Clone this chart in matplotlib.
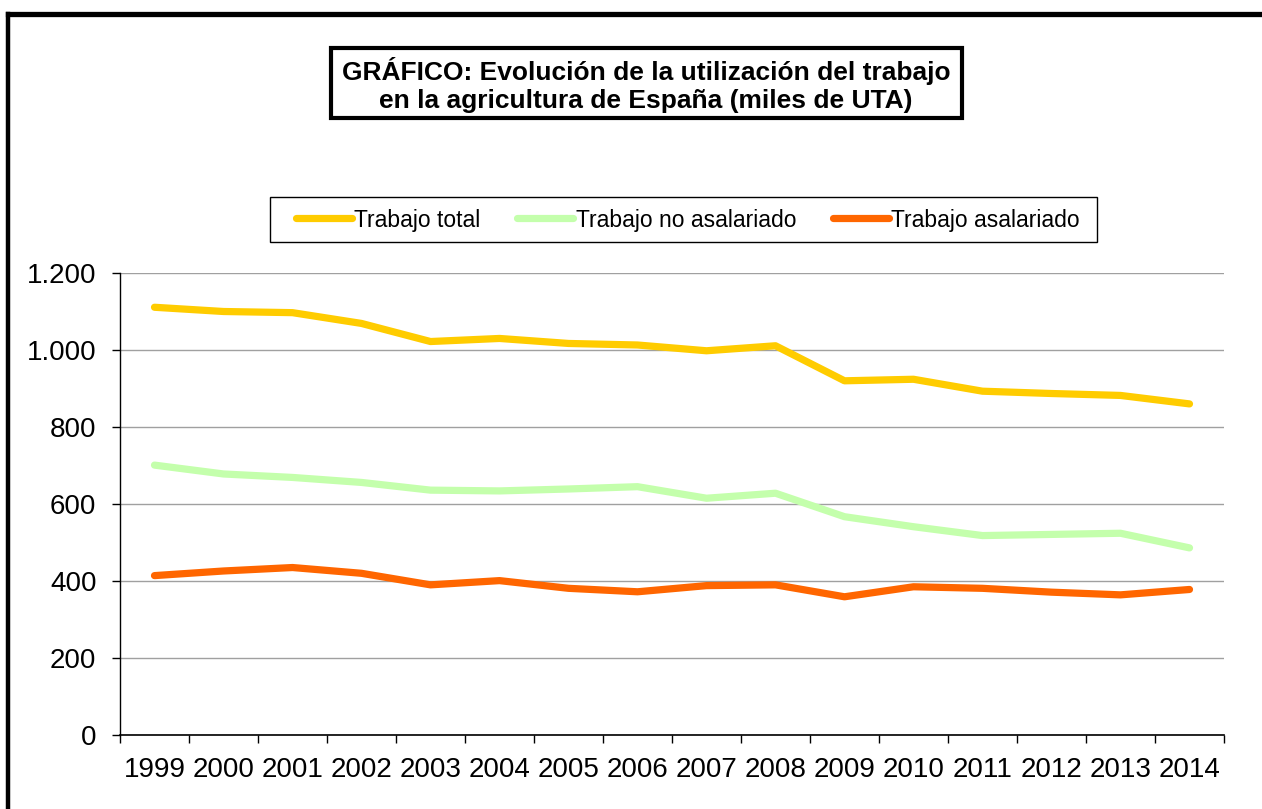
import matplotlib.pyplot as plt
from matplotlib.lines import Line2D
from matplotlib.patches import Rectangle
from matplotlib.ticker import FuncFormatter, FixedLocator

plt.rcParams['font.family'] = ['Liberation Sans', 'DejaVu Sans']

# Datos (miles de UTA)
anios = ['1999', '2000', '2001', '2002', '2003', '2004', '2005', '2006',
         '2007', '2008', '2009', '2010', '2011', '2012', '2013', '2014']
trabajo_total = [1111, 1100, 1097, 1069, 1022, 1030, 1017, 1013,
                 998, 1011, 920, 924, 893, 887, 882, 860]
trabajo_no_asalariado = [701, 678, 669, 656, 636, 634, 639, 645,
                         615, 628, 567, 541, 518, 521, 524, 486]
trabajo_asalariado = [414, 426, 435, 420, 390, 401, 381, 372,
                      388, 390, 359, 385, 381, 371, 364, 378]

W, H = 1262, 809
fig = plt.figure(figsize=(W / 100, H / 100), dpi=100)

# marco exterior (solo arriba e izquierda visibles)
fig.add_artist(Line2D([8 / W, 1.0], [1 - 13.5 / H, 1 - 13.5 / H], color='black', lw=3.8,
                      transform=fig.transFigure, solid_capstyle='projecting'))
fig.add_artist(Line2D([8 / W, 8 / W], [1 - 13.5 / H, 0], color='black', lw=3.2,
                      transform=fig.transFigure, solid_capstyle='projecting'))

ax = fig.add_axes([120 / W, 1 - 735 / H, (1224 - 120) / W, (735 - 273) / H])

x = list(range(len(anios)))
ax.plot(x, trabajo_total, color='#FFCC00', lw=5.2, label='Trabajo total', solid_capstyle='round')
ax.plot(x, trabajo_no_asalariado, color='#C4FFAC', lw=5.2, label='Trabajo no asalariado', solid_capstyle='round')
ax.plot(x, trabajo_asalariado, color='#FF6600', lw=5.2, label='Trabajo asalariado', solid_capstyle='round')

ax.set_xlim(-0.5, len(anios) - 0.5)
ax.set_ylim(0, 1200)
ax.set_yticks(range(0, 1201, 200))
ax.yaxis.set_major_formatter(FuncFormatter(lambda v, p: f'{int(v):,}'.replace(',', '.')))
ax.grid(axis='y', color='#A0A0A0', lw=1)
ax.set_axisbelow(True)

ax.set_xticks(x)
ax.set_xticklabels(anios)
ax.xaxis.set_minor_locator(FixedLocator([i - 0.5 for i in range(len(anios) + 1)]))
ax.tick_params(axis='x', which='major', length=0, labelsize=20, pad=16)
ax.tick_params(axis='x', which='minor', length=6, width=1, direction='out', color='black')
ax.tick_params(axis='y', length=6, width=1, direction='out', labelsize=20, pad=11)

for s in ['top', 'right']:
    ax.spines[s].set_visible(False)
ax.spines['left'].set_linewidth(1)
ax.spines['bottom'].set_linewidth(1.2)

# leyenda sin marco + recuadro propio
leg = ax.legend(loc='center', bbox_to_anchor=((688 - 120) / (1224 - 120), (735 - 220) / (735 - 273)),
                ncol=3, frameon=False, fontsize=16.5,
                handlelength=2.45, handletextpad=0.1, columnspacing=1.6, borderpad=0.2)
fig.add_artist(Rectangle((270 / W, 1 - 242 / H), (1097 - 270) / W, (242 - 197) / H,
                         fill=False, edgecolor='black', lw=1, transform=fig.transFigure))

# título en recuadro
fig.text(646 / W, 1 - 85 / H,
         'GRÁFICO: Evolución de la utilización del trabajo\nen la agricultura de España (miles de UTA)',
         ha='center', va='center', fontsize=19, fontweight='bold', linespacing=1.2)
fig.add_artist(Rectangle((331 / W, 1 - 118 / H), (962 - 331) / W, (118 - 48) / H,
                         fill=False, edgecolor='black', lw=3, transform=fig.transFigure))
fig.add_artist(Line2D([331 / W, 962 / W], [1 - 117 / H, 1 - 117 / H], color='black', lw=2,
                      transform=fig.transFigure))

fig.savefig('out.png', dpi=100)
